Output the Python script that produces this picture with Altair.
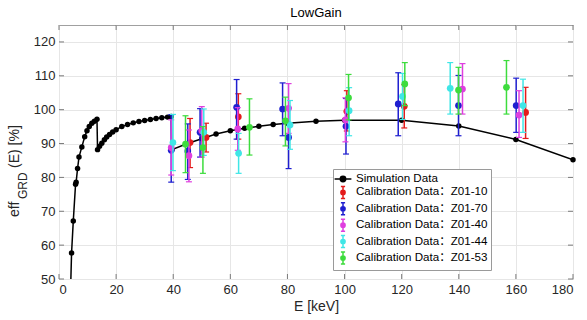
import altair as alt
import pandas as pd

# ---------------- data ----------------
sim_e = [4.0, 4.4, 5.0, 5.8, 6.0, 6.5, 7.0, 8.0, 9.0, 9.8,
         10.6, 11.5, 12.4, 13.3, 13.5, 14.2, 15.0, 15.9, 16.7, 17.7,
         18.8, 20.0, 22.0, 24.0, 26.0, 28.0, 30.0, 32.0, 34.0, 36.0,
         38.0, 39.3, 39.5, 45, 50, 55, 60, 65, 70, 75,
         80, 90, 100, 120, 140, 160, 180]
sim_v = [45.0, 57.7, 67.1, 78.0, 78.6, 82.6, 86.0, 89.0, 92.0, 93.8,
         95.0, 96.0, 96.6, 97.2, 88.2, 89.2, 90.1, 91.1, 91.9, 92.7,
         93.4, 94.1, 95.0, 95.6, 96.1, 96.5, 96.8, 97.1, 97.4, 97.6,
         97.8, 98.0, 88.2, 90.0, 91.4, 92.8, 93.8, 94.5, 95.1, 95.6,
         96.0, 96.6, 96.9, 96.9, 95.2, 91.2, 85.2]

red_e = [45.9, 51.5, 62.8, 100.8, 120.9, 163.4]
red_v = [90.3, 91.8, 97.9, 99.5, 101.0, 99.2]
red_lo = [82.9, 87.5, 91.3, 93.7, 94.6, 91.5]
red_hi = [97.4, 96.0, 104.7, 105.6, 107.4, 106.6]

blue_e = [39.3, 45.1, 49.4, 62.2, 78.3, 80.4, 100.5, 118.8, 139.9, 160.1]
blue_v = [88.0, 87.8, 93.3, 100.7, 100.2, 91.8, 95.1, 101.7, 101.2, 101.2]
blue_lo = [78.6, 79.4, 86.0, 91.3, 92.3, 82.6, 86.9, 92.3, 92.3, 93.3]
blue_hi = [98.5, 95.8, 100.3, 108.9, 107.9, 100.5, 103.3, 110.9, 110.1, 109.3]

magenta_e = [39.3, 45.5, 50.0, 62.6, 80.4, 100.3, 141.3, 161.1]
magenta_v = [88.8, 86.4, 93.8, 94.3, 100.4, 97.0, 106.1, 98.4]
magenta_lo = [80.7, 78.7, 86.0, 88.0, 93.0, 90.5, 98.7, 91.8]
magenta_hi = [97.0, 94.0, 100.9, 100.6, 107.7, 103.5, 113.6, 105.6]

cyan_e = [39.9, 50.7, 62.9, 80.9, 101.6, 120.3, 137.0, 162.5]
cyan_v = [90.3, 93.3, 87.1, 95.5, 99.7, 103.9, 106.3, 101.2]
cyan_lo = [82.0, 86.5, 81.2, 88.3, 92.3, 97.1, 98.7, 93.3]
cyan_hi = [98.6, 100.2, 93.0, 102.7, 106.5, 110.7, 113.9, 109.0]

green_e = [44.3, 50.4, 66.7, 79.3, 101.4, 121.1, 139.9, 156.7]
green_v = [89.8, 88.8, 94.8, 96.7, 103.5, 107.6, 105.8, 106.6]
green_lo = [81.4, 81.2, 86.6, 89.3, 97.0, 101.2, 98.7, 98.7]
green_hi = [98.2, 95.0, 103.2, 103.7, 110.4, 113.9, 112.5, 114.5]

series_names = ["Simulation Data",
                "Calibration Data\uff1aZ01-10",
                "Calibration Data\uff1aZ01-70",
                "Calibration Data\uff1aZ01-40",
                "Calibration Data\uff1aZ01-44",
                "Calibration Data\uff1aZ01-53"]
series_colors = ["#000000", "#e41a1a", "#1f1fd0", "#df3fdf", "#3fe6e6", "#3ddc3d"]

x_ticks = list(range(0, 181, 20))
y_ticks = list(range(50, 121, 10))
x_min, x_max = 0, 180
y_min, y_max = 50, 125

# ---------------- styling ----------------
FONT = "Liberation Sans"
LEG_FONT = "Liberation Sans, 'Noto Sans CJK SC'"
xs = alt.Scale(domain=[x_min, x_max], nice=False, zero=False)
ys = alt.Scale(domain=[y_min, y_max], nice=False, zero=False)
xaxis = alt.Axis(values=x_ticks, title="E [keV]", grid=True, domain=False, tickSize=0,
                 labelPadding=4, labelFontSize=13, labelColor="#262626",
                 titleFontSize=14, titleFontWeight="normal", titleColor="#262626",
                 titlePadding=3, gridColor="#e6e6e6")
yaxis = alt.Axis(values=y_ticks, title=None, grid=True, domain=False, tickSize=0,
                 labelPadding=4, labelFontSize=13, labelColor="#262626",
                 gridColor="#e6e6e6")


def X(field):
    return alt.X(field, type="quantitative", scale=xs, axis=xaxis)


def Y(field):
    return alt.Y(field, type="quantitative", scale=ys, axis=yaxis)


# ---------------- inward ticks on the box (MATLAB style) ----------------
TICK_COL = "#7a7a7a"
yt_df = pd.DataFrame({"v": y_ticks, "l": [x_min] * len(y_ticks), "r": [x_max] * len(y_ticks)})
xt_df = pd.DataFrame({"e": x_ticks, "b": [y_min] * len(x_ticks), "t": [y_max] * len(x_ticks)})
ticks = [
    alt.Chart(yt_df).mark_tick(orient="horizontal", size=5, thickness=1, color=TICK_COL, xOffset=2.5,
                               opacity=1).encode(x=X("l"), y=Y("v")),
    alt.Chart(yt_df).mark_tick(orient="horizontal", size=5, thickness=1, color=TICK_COL, xOffset=-2.5,
                               opacity=1).encode(x=X("r"), y=Y("v")),
    alt.Chart(xt_df).mark_tick(orient="vertical", size=5, thickness=1, color=TICK_COL, yOffset=-2.5,
                               opacity=1).encode(x=X("e"), y=Y("b")),
    alt.Chart(xt_df).mark_tick(orient="vertical", size=5, thickness=1, color=TICK_COL, yOffset=2.5,
                               opacity=1).encode(x=X("e"), y=Y("t")),
]

# ---------------- simulation ----------------
sim_df = pd.DataFrame({"e": sim_e, "v": sim_v, "i": list(range(len(sim_e)))})
sim_line = alt.Chart(sim_df).mark_line(color="black", strokeWidth=1.5, clip=True).encode(
    x=X("e"), y=Y("v"), order=alt.Order("i:Q"))
sim_pts = alt.Chart(sim_df).transform_filter("datum.v >= 50").mark_circle(
    color="black", size=30, opacity=1).encode(x=X("e"), y=Y("v"))


# ---------------- calibration ----------------
def cal_layers(e, v, lo, hi, color):
    df = pd.DataFrame({"e": e, "v": v, "lo": lo, "hi": hi})
    b = alt.Chart(df)
    rule = b.mark_rule(color=color, strokeWidth=1.5).encode(x=X("e"), y=Y("lo"), y2="hi:Q")
    cap_lo = b.mark_tick(color=color, orient="horizontal", size=6, thickness=1.2, opacity=1).encode(
        x=X("e"), y=Y("lo"))
    cap_hi = b.mark_tick(color=color, orient="horizontal", size=6, thickness=1.2, opacity=1).encode(
        x=X("e"), y=Y("hi"))
    pts = b.mark_circle(color=color, size=45, opacity=1).encode(x=X("e"), y=Y("v"))
    return [rule, cap_lo, cap_hi, pts]


cal = []
cal += cal_layers(red_e, red_v, red_lo, red_hi, series_colors[1])
cal += cal_layers(blue_e, blue_v, blue_lo, blue_hi, series_colors[2])
cal += cal_layers(magenta_e, magenta_v, magenta_lo, magenta_hi, series_colors[3])
cal += cal_layers(cyan_e, cyan_v, cyan_lo, cyan_hi, series_colors[4])
cal += cal_layers(green_e, green_v, green_lo, green_hi, series_colors[5])

# ---------------- legend (drawn by Vega-Lite from a clipped dummy layer) ----------------
sim_symbol = "M-1.4,0L1.4,0M0.45,0A0.45,0.45,0,1,1,-0.45,0A0.45,0.45,0,1,1,0.45,0Z"
bar_symbol = ("M0,-1L0,1M-0.35,-1L0.35,-1M-0.35,1L0.35,1"
              "M0.35,0A0.35,0.35,0,1,1,-0.35,0A0.35,0.35,0,1,1,0.35,0Z")
shapes = [sim_symbol] + [bar_symbol] * 5

leg = alt.Legend(title=None, orient="none", legendX=274, legendY=144, padding=3,
                 strokeColor="#9a9a9a", fillColor="white", labelFontSize=11.6,
                 labelColor="#000000", labelFont=LEG_FONT, symbolSize=144, symbolStrokeWidth=1.5,
                 rowPadding=-1.6, labelOffset=6, labelLimit=400, cornerRadius=0)
leg_df = pd.DataFrame({"series": series_names, "e": [-50] * 6, "v": [100] * 6})
legend_layer = alt.Chart(leg_df).mark_point(filled=True, clip=True, size=144, strokeWidth=1.5,
                                             opacity=1).encode(
    x=X("e"), y=Y("v"),
    fill=alt.Fill("series:N", scale=alt.Scale(domain=series_names, range=series_colors), legend=leg),
    stroke=alt.Stroke("series:N", scale=alt.Scale(domain=series_names, range=series_colors), legend=leg),
    shape=alt.Shape("series:N", scale=alt.Scale(domain=series_names, range=shapes), legend=leg),
)

# ---------------- y axis title with subscript ----------------
def ylab(text, x, y, size):
    return alt.Chart(pd.DataFrame({"t": [text]})).mark_text(
        angle=270, align="left", baseline="middle", fontSize=size, color="#262626", font=FONT
    ).encode(text="t:N", x=alt.value(x), y=alt.value(y))


ylabels = [ylab("eff", -44, 192, 14), ylab("GRD", -36.5, 174, 12), ylab("(E) [%]", -44, 143, 14)]

chart = alt.layer(*ticks, sim_line, sim_pts, *cal, legend_layer, *ylabels).properties(
    width=514, height=254,
    title=alt.Title("LowGain", fontSize=13, fontWeight="normal", color="#000000", font=FONT, offset=5),
    autosize=alt.AutoSizeParams(type="none"),
    padding={"left": 59, "top": 25, "right": 14, "bottom": 41},
).configure(font=FONT).configure_view(stroke="#a0a0a0", strokeWidth=1)

chart.save("out.html", embed_options={"renderer": "svg", "actions": False})
